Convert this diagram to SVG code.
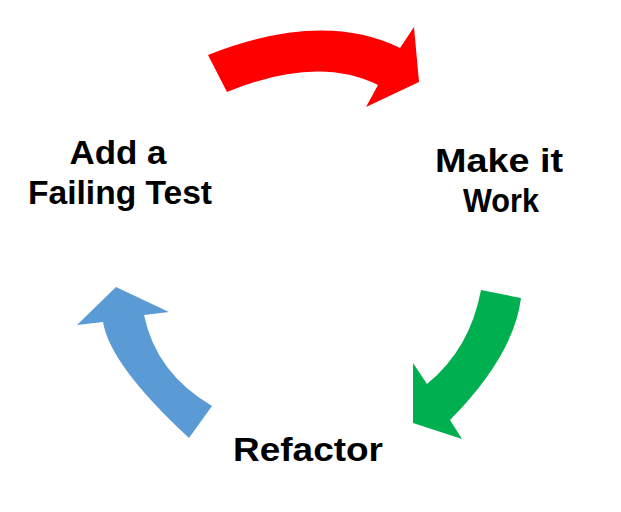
<svg xmlns="http://www.w3.org/2000/svg" width="621" height="512" viewBox="0 0 621 512">
<style>
.lbl{font-family:"Liberation Sans",Arial,sans-serif;font-weight:bold;font-size:33px;fill:#000;text-anchor:middle}
</style>
<rect width="621" height="512" fill="#fff"/>
<g id="connectors">
<path id="arrow-red" d="M208,55 Q322,10 400,48 L414,27 L419,82 L366,107 L378,85 Q317,55 227,92 Z" fill="#FE0000"/>
<path id="arrow-green" d="M481,290 L521,298 Q514,355 450,420 L462,439 L413,423 L413,363 L427,384 Q470,349 481,290 Z" fill="#00B050"/>
<path id="arrow-blue" d="M189,438 Q110,365 103,322 L77,325 L116,287 L169,312 L144,315 Q156,373 212,406 Z" fill="#5B9BD5"/>
</g>
<g id="node-add">
<text class="lbl"><tspan x="118" y="164" textLength="97" lengthAdjust="spacingAndGlyphs">Add a</tspan><tspan x="120" y="204" textLength="184" lengthAdjust="spacingAndGlyphs">Failing Test</tspan></text>
</g>
<g id="node-make">
<text class="lbl"><tspan x="499" y="172" textLength="128" lengthAdjust="spacingAndGlyphs">Make it</tspan><tspan x="501" y="212" textLength="76" lengthAdjust="spacingAndGlyphs">Work</tspan></text>
</g>
<g id="node-refactor">
<text class="lbl" x="308" y="461" textLength="150" lengthAdjust="spacingAndGlyphs">Refactor</text>
</g>
</svg>
